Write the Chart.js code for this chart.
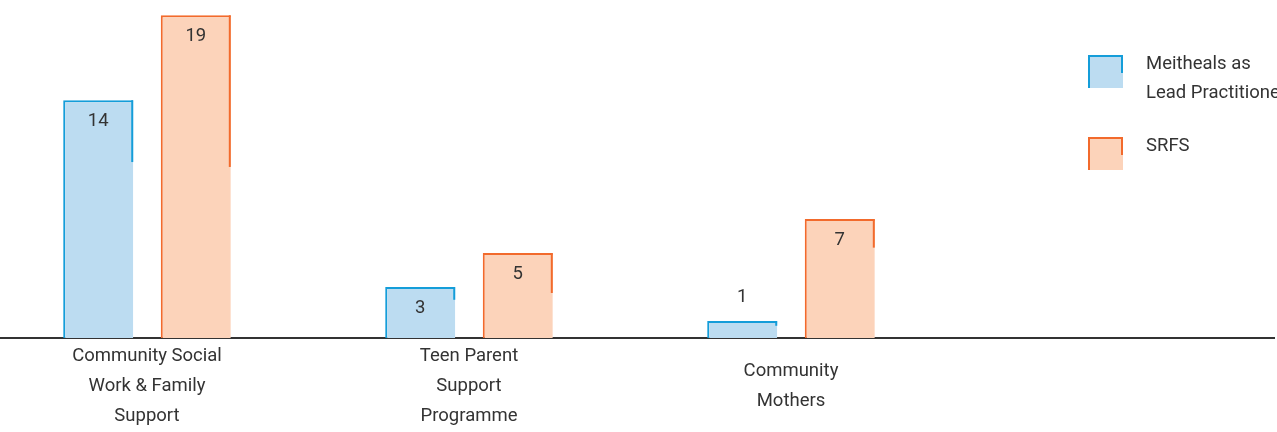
<!DOCTYPE html>
<html>
<head>
<meta charset="utf-8">
<title>Meitheals as Lead Practitioner vs SRFS</title>
<style>
  html, body { margin: 0; padding: 0; background: #fff; overflow: hidden; }
  #wrap { position: relative; width: 1277px; height: 432px; overflow: hidden; }
  /* chart runs a little past the left and bottom edges, like the original export */
  #chartBox { position: absolute; left: -14px; top: 0; width: 1291px; height: 464px; }
  .legend-item { position: absolute; left: 1088px; font: 18.5px Roboto, sans-serif; color: #333; line-height: 29px; white-space: nowrap; }
  .legend-box { position: absolute; left: 0; top: 6px; width: 35px; height: 33px; box-sizing: border-box; border-style: solid; border-width: 2px 0 0 2px; }
  .legend-box::after { content: ''; position: absolute; right: 0; top: -2px; width: 2px; height: 18px; background: var(--edge); }
  .legend-text { margin-left: 58px; }
</style>
<script src="https://cdn.jsdelivr.net/npm/chart.js@4.4.1/dist/chart.umd.min.js"></script>
</head>
<body>
<div id="wrap">
  <div id="chartBox"><canvas id="barChart"></canvas></div>
  <div id="legend"></div>
</div>
<script>
// categories (last one left empty, the legend sits over it)
const categories = [
  ['Community Social', 'Work & Family', 'Support'],
  ['Teen Parent', 'Support', 'Programme'],
  ['Community', 'Mothers'],
  ''
]
const seriesNames = [['Meitheals as', 'Lead Practitioner'], ['SRFS']]
const meithealValues = [14, 3, 1]
const srfsValues = [19, 5, 7]

const fillColors = ['#bcdcf1', '#fcd3ba']
const edgeColors = ['#149dd9', '#f26a2c']
// how far down the right edge line runs, as a share of each bar
const edgeShare = [[0.26, 0.25, 0.28], [0.47, 0.47, 0.24]]
const labelFont = '18.5px Roboto, sans-serif'

const rightEdge = {
  id: 'rightEdge',
  afterDatasetsDraw (chart) {
    const ctx = chart.ctx
    ctx.save()
    chart.data.datasets.forEach((ds, i) => {
      chart.getDatasetMeta(i).data.forEach((bar, j) => {
        const len = (bar.base - bar.y) * edgeShare[i][j]
        ctx.fillStyle = edgeColors[i]
        ctx.fillRect(bar.x + bar.width / 2 - 2, bar.y, 2, len)
      })
    })
    ctx.restore()
  }
}

const valueLabels = {
  id: 'valueLabels',
  afterDatasetsDraw (chart) {
    const ctx = chart.ctx
    ctx.save()
    ctx.font = labelFont
    ctx.fillStyle = '#333'
    ctx.textAlign = 'center'
    ctx.textBaseline = 'middle'
    chart.data.datasets.forEach((ds, i) => {
      chart.getDatasetMeta(i).data.forEach((bar, j) => {
        const v = ds.data[j]
        if (v == null) return
        const h = bar.base - bar.y
        const y = h > 40 ? bar.y + 21 : bar.y - 24
        ctx.fillText(String(v), bar.x, y)
      })
    })
    ctx.restore()
  }
}

const myChart = new Chart(document.getElementById('barChart').getContext('2d'), {
  type: 'bar',
  data: {
    labels: categories,
    datasets: [meithealValues, srfsValues].map((values, i) => ({
      label: seriesNames[i].join(' '),
      data: values,
      backgroundColor: fillColors[i],
      borderColor: edgeColors[i],
      borderWidth: { top: 2, left: 2, right: 0, bottom: 0 },
      borderSkipped: false,
      categoryPercentage: 0.606,
      barPercentage: 0.718
    }))
  },
  options: {
    animation: false,
    responsive: true,
    maintainAspectRatio: false,
    layout: {
      padding: { left: 0, right: 3, top: 0, bottom: 0 }
    },
    plugins: {
      legend: { display: false },
      tooltip: { enabled: false }
    },
    scales: {
      x: {
        grid: { display: false, drawTicks: false },
        border: { display: true, color: '#333', width: 2 },
        ticks: {
          color: '#333',
          font: { family: 'Roboto', size: 18.5, lineHeight: 30 / 18.5 },
          padding: 18,
          crossAlign: 'center',
          maxRotation: 0,
          autoSkip: false
        }
      },
      y: { display: false, min: 0, max: 19.9 }
    }
  },
  plugins: [rightEdge, valueLabels]
})

// html legend laid over the empty right part of the chart
const legendTops = [49, 131]
const legend = document.getElementById('legend')
seriesNames.forEach((lines, i) => {
  const item = document.createElement('div')
  item.className = 'legend-item'
  item.style.top = legendTops[i] + 'px'
  const box = document.createElement('div')
  box.className = 'legend-box'
  box.style.backgroundColor = fillColors[i]
  box.style.borderColor = edgeColors[i]
  box.style.setProperty('--edge', edgeColors[i])
  const text = document.createElement('div')
  text.className = 'legend-text'
  text.innerHTML = lines.join('<br>')
  item.appendChild(box)
  item.appendChild(text)
  legend.appendChild(item)
})
</script>
</body>
</html>
